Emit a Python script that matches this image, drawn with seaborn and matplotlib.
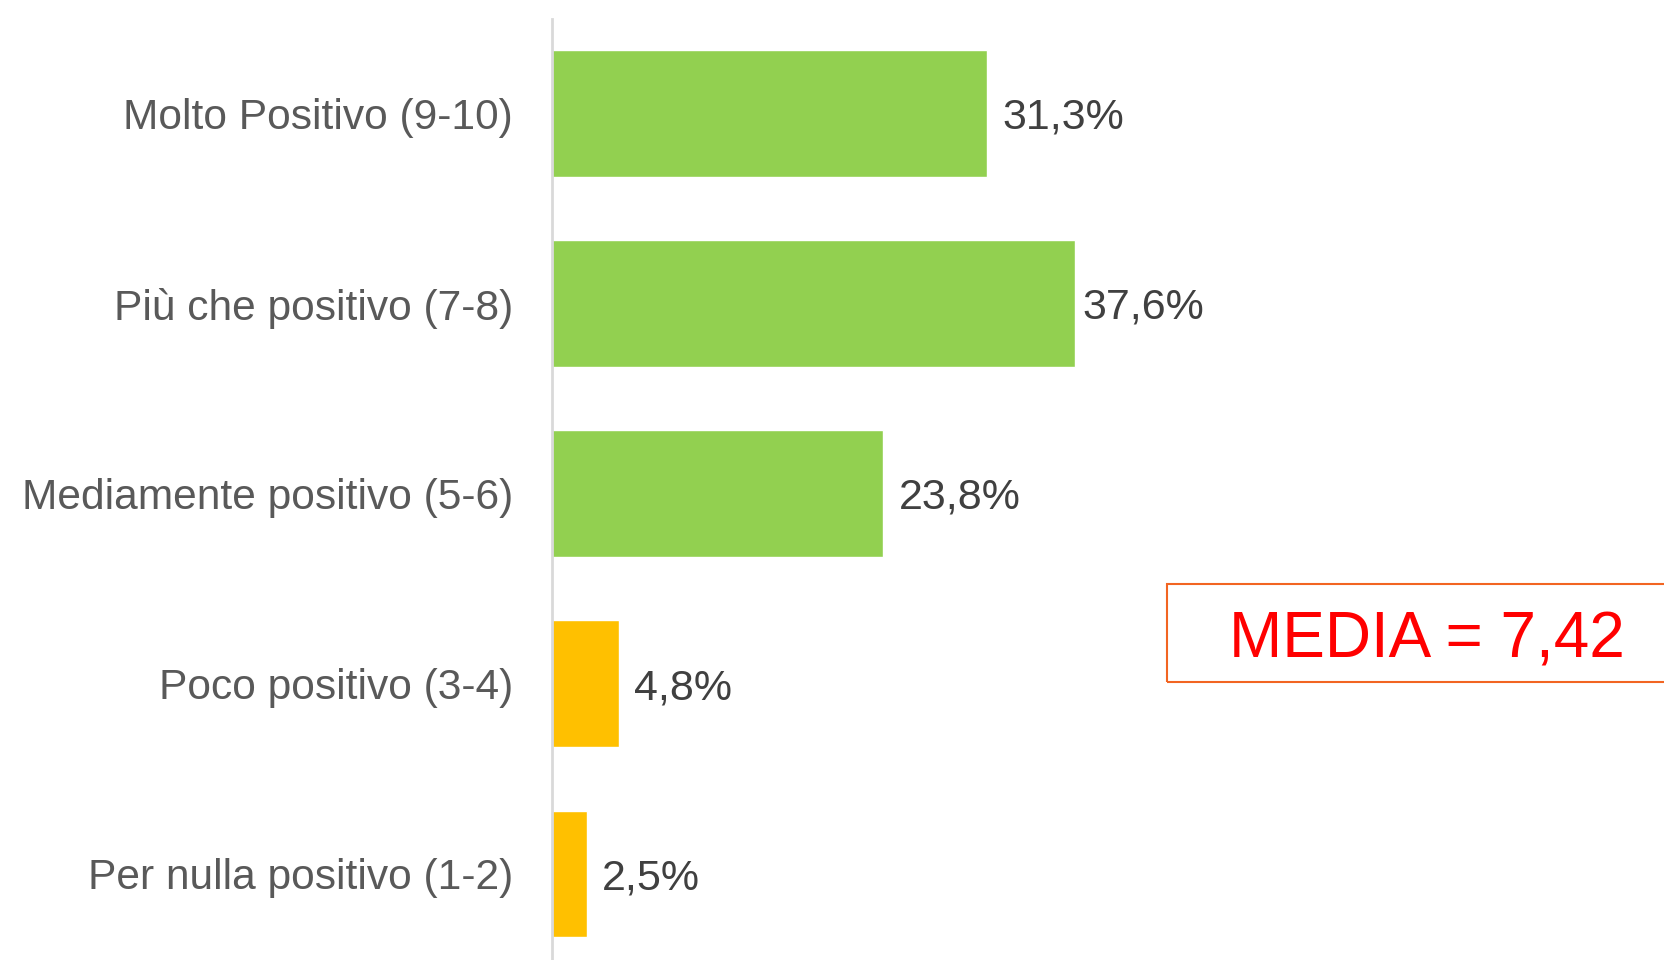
import pandas as pd
import seaborn as sns
import matplotlib.pyplot as plt
from matplotlib.patches import Rectangle

categories = ['Molto Positivo (9-10)', 'Più che positivo (7-8)', 'Mediamente positivo (5-6)',
              'Poco positivo (3-4)', 'Per nulla positivo (1-2)']
values = [31.3, 37.6, 23.8, 4.8, 2.5]
bar_colors = ['#92D050', '#92D050', '#92D050', '#FFC000', '#FFC000']
media_text = 'MEDIA = 7,42'

df = pd.DataFrame({'category': categories, 'value': values})

sns.set_style('white')
plt.rcParams['font.family'] = ['Liberation Sans', 'DejaVu Sans']

fig = plt.figure(figsize=(16.65, 9.6), dpi=100)
ax = fig.add_axes([552 / 1665, 0, 1 - 552 / 1665, 1 - 18.6 / 960])

sns.barplot(x='value', y='category', data=df, hue='category', palette=bar_colors,
            orient='h', width=0.667, saturation=1, legend=False, ax=ax)

ax.set_xlim(0, 80)
ax.set_ylim(4.4526, -0.5)
ax.set_xlabel('')
ax.set_ylabel('')
ax.set_xticks([])
ax.tick_params(axis='y', length=0, pad=28, labelsize=30.6, labelcolor='#595959')

for s in ['top', 'right', 'bottom']:
    ax.spines[s].set_visible(False)
ax.spines['left'].set_color('#D9D9D9')
ax.spines['left'].set_linewidth(2)

# value labels at bar ends (the longest one sits closer to its bar)
for i, v in enumerate(values):
    dx = 5 if v == max(values) else 11
    ax.annotate('{:.1f}%'.format(v).replace('.', ','), (v, i), xytext=(dx, -3),
                textcoords='offset points', va='center', ha='left',
                fontsize=31, color='#404040')

# MEDIA box
fig.patches.append(Rectangle((1167 / 1665, 1 - 682 / 960), (1665 - 1167) / 1665 + 0.01, 98 / 960,
                             transform=fig.transFigure, fill=False, edgecolor='#F26522',
                             linewidth=1.5, clip_on=True))
fig.text((1167 + 1665) / 2 / 1665 + 0.0065, 1 - 640 / 960, media_text, ha='center', va='center',
         fontsize=46, color='#FF0000')

plt.savefig('out.png', dpi=100)
